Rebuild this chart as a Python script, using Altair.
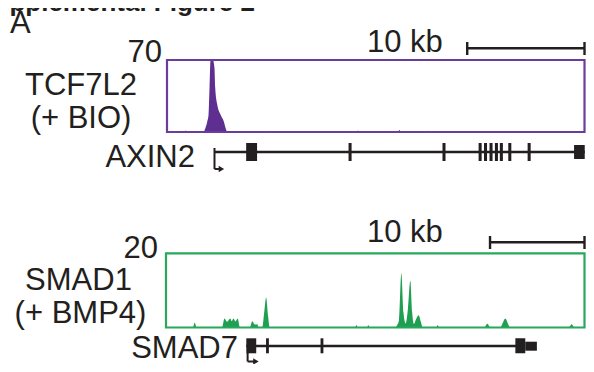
import altair as alt
import pandas as pd

# ---------------- data ----------------
title_text = "Supplemental Figure 2"
panel_letter = "A"
scale_label = "10 kb"
scale_kb = 10

# upper panel: TCF7L2 (+ BIO) ChIP signal at AXIN2
up_track = ["TCF7L2", "(+ BIO)"]
up_gene = "AXIN2"
up_ymax = 70
up_span_kb = 35.6
up_pos = [0, 1.48, 1.60, 1.72, 3.12, 3.21, 3.43, 3.54, 3.63, 3.71, 3.91, 4.05, 4.11, 4.28,
          4.56, 4.83, 5.04, 5.15, 8.74, 8.86, 8.98, 16.16, 16.28, 16.40, 19.70, 19.82, 19.94,
          22.07, 22.19, 22.31, 35.6]
up_val = [0, 0, 1.5, 0, 0, 2, 10, 16.5, 44, 69, 70, 62, 43, 27,
          17, 10.7, 2.3, 0, 0, 1.2, 0, 0, 1.5, 0, 0, 2, 0,
          0, 1.2, 0, 0]
up_gene_start = 4.05
up_gene_end = 35.62
up_tss_arrow_end = 4.64
up_exon_start = [6.75, 15.48, 23.49, 26.57, 27.03, 27.50, 27.96, 28.38, 29.10, 30.75]
up_exon_end = [7.68, 15.74, 23.75, 26.83, 27.29, 27.76, 28.22, 28.64, 29.36, 31.01]
up_last_exon = [34.71, 35.62]

# lower panel: SMAD1 (+ BMP4) ChIP signal at SMAD7
lo_track = ["SMAD1", "(+ BMP4)"]
lo_gene = "SMAD7"
lo_ymax = 20
lo_span_kb = 44.3
lo_pos = [0, 2.83, 3.04, 3.25, 5.93, 6.19, 6.46, 6.79, 6.96, 7.14, 7.35, 7.59, 7.82,
          8.87, 9.13, 9.40, 9.66, 9.82, 10.18, 10.39, 10.60, 10.81, 10.97,
          20.00, 20.16, 20.31, 21.26, 21.42, 21.57,
          24.25, 24.46, 24.67, 24.91, 25.14, 25.37, 25.61, 25.86, 26.06, 26.24, 26.51, 26.74, 26.98, 27.19,
          28.60, 28.76, 28.92, 33.70, 34.01, 34.33, 35.38, 35.59, 35.93, 36.22, 36.43,
          42.62, 42.94, 43.25, 44.3]
lo_val = [0, 0, 1.3, 0, 0, 2.4, 1.5, 2.4, 1.7, 2.4, 1.6, 2.4, 0,
          0, 1.7, 0.8, 0.9, 0, 0, 4, 8.1, 3, 0,
          0, 0.7, 0, 0, 0.7, 0,
          0, 0.6, 2, 14.6, 4, 1.1, 5, 12.6, 4, 1.0, 2.5, 3.3, 1.5, 0,
          0, 0.7, 0, 0, 1.0, 0, 0, 0.9, 2.4, 0.9, 0,
          0, 0.9, 0, 0]
lo_gene_start = 8.50
lo_gene_end = 38.0
lo_tss = 8.64
lo_tss_arrow_end = 9.52
lo_exon_start = [8.50, 10.59, 16.36, 36.98]
lo_exon_end = [9.55, 10.89, 16.66, 38.03]
lo_utr = [38.03, 39.26]

# ---------------- style ----------------
FONT = "Liberation Sans"
INK = "#231f20"
PURPLE_FILL = "#5e2e91"
PURPLE_LINE = "#6a3d9a"
GREEN_FILL = "#1f9f52"
GREEN_LINE = "#27a85c"
FS = 31


def label(text, x, y, align="left", size=FS, weight="normal"):
    return alt.Chart(pd.DataFrame({"t": [text]})).mark_text(
        font=FONT, fontSize=size, fontWeight=weight, color=INK,
        align=align, baseline="alphabetic"
    ).encode(text="t:N", x=alt.value(x), y=alt.value(y))


def panel(pos, val, span, ymax, xr, yr, fill, line, track, gene,
          gene_start, gene_end, tss, arrow_end, ex_s, ex_e, extra,
          gene_y, ex_top, ex_bot, tss_top, arrow_y, bar_y, tick_top, tick_bot,
          ymax_xy, track_xy, gene_xy, bar_label_xy):
    sx = alt.Scale(domain=[0, span], range=xr, nice=False, zero=False)
    sy = alt.Scale(domain=[0, ymax], range=yr, nice=False)
    X = lambda f: alt.X(f, scale=sx, axis=None)

    sig = pd.DataFrame({"pos": pos, "val": val})
    area = alt.Chart(sig).mark_area(color=fill, interpolate="monotone").encode(
        x=X("pos:Q"), y=alt.Y("val:Q", scale=sy, axis=None))

    box = alt.Chart(pd.DataFrame({"x0": [0], "x1": [span], "y0": [0], "y1": [ymax]})).mark_rect(
        fillOpacity=0, stroke=line, strokeWidth=2.2).encode(
        x=X("x0:Q"), x2="x1:Q", y=alt.Y("y0:Q", scale=sy, axis=None), y2="y1:Q")

    gl = alt.Chart(pd.DataFrame({"s": [gene_start], "e": [gene_end]})).mark_rule(
        color=INK, strokeWidth=2.6).encode(x=X("s:Q"), x2="e:Q", y=alt.value(gene_y))

    exons = alt.Chart(pd.DataFrame({"s": ex_s, "e": ex_e})).mark_rect(color=INK).encode(
        x=X("s:Q"), x2="e:Q", y=alt.value(ex_top), y2=alt.value(ex_bot))

    ex2 = alt.Chart(pd.DataFrame({"s": [extra[0]], "e": [extra[1]]})).mark_rect(color=INK).encode(
        x=X("s:Q"), x2="e:Q", y=alt.value(extra[2]), y2=alt.value(extra[3]))

    tss_df = pd.DataFrame({"s": [tss], "e": [arrow_end]})
    stem = alt.Chart(tss_df).mark_rule(color=INK, strokeWidth=2).encode(
        x=X("s:Q"), y=alt.value(tss_top), y2=alt.value(arrow_y))
    horiz = alt.Chart(tss_df).mark_rule(color=INK, strokeWidth=2).encode(
        x=X("s:Q"), x2="e:Q", y=alt.value(arrow_y))
    head = alt.Chart(tss_df).mark_point(shape="triangle-right", filled=True, color=INK,
                                        size=40, opacity=1).encode(
        x=X("e:Q"), y=alt.value(arrow_y))

    bar = pd.DataFrame({"s": [span - scale_kb], "e": [span]})
    bar_line = alt.Chart(bar).mark_rule(color=INK, strokeWidth=2.4).encode(
        x=X("s:Q"), x2="e:Q", y=alt.value(bar_y))
    ends = pd.DataFrame({"p": [span - scale_kb, span]})
    bar_ticks = alt.Chart(ends).mark_rule(color=INK, strokeWidth=2.4).encode(
        x=X("p:Q"), y=alt.value(tick_top), y2=alt.value(tick_bot))

    texts = [
        label(str(ymax), ymax_xy[0], ymax_xy[1], align="right"),
        label(track[0], track_xy[0], track_xy[1], align="center"),
        label(track[1], track_xy[2], track_xy[3], align="center"),
        label(gene, gene_xy[0], gene_xy[1], align="right"),
        label(scale_label, bar_label_xy[0], bar_label_xy[1], align="left"),
    ]
    return alt.layer(area, box, gl, exons, ex2, stem, horiz, head, bar_line, bar_ticks, *texts)


upper = panel(up_pos, up_val, up_span_kb, up_ymax, [159, 576.5], [124, 52],
              PURPLE_FILL, PURPLE_LINE, up_track, up_gene,
              up_gene_start, up_gene_end, up_gene_start, up_tss_arrow_end,
              up_exon_start, up_exon_end, [up_last_exon[0], up_last_exon[1], 137, 151],
              gene_y=144, ex_top=135, ex_bot=153, tss_top=140, arrow_y=161,
              bar_y=40.3, tick_top=34, tick_bot=47,
              ymax_xy=(154, 54), track_xy=(73, 87, 73, 120), gene_xy=(187, 159),
              bar_label_xy=(359, 43.7))

lower = panel(lo_pos, lo_val, lo_span_kb, lo_ymax, [158, 576.5], [319.5, 245.3],
              GREEN_FILL, GREEN_LINE, lo_track, lo_gene,
              lo_gene_start, lo_gene_end, lo_tss, lo_tss_arrow_end,
              lo_exon_start, lo_exon_end, [lo_utr[0], lo_utr[1], 333.7, 342.7],
              gene_y=338, ex_top=330.3, ex_bot=345.3, tss_top=345, arrow_y=353.5,
              bar_y=234.3, tick_top=228, tick_bot=241,
              ymax_xy=(150, 250), track_xy=(70.5, 282, 72.5, 315), gene_xy=(230, 350),
              bar_label_xy=(359, 233.7))

header = alt.layer(
    label(title_text, 247, 2.5, align="right", size=26, weight="bold"),
    label(panel_letter, 2, 25, align="left"),
)

chart = alt.layer(header, upper, lower).resolve_scale(
    x="independent", y="independent"
).properties(
    width=578, height=356, padding=0,
    autosize=alt.AutoSizeParams(type="none"),
).configure_view(stroke=None)

chart.save("out.html", embed_options={"renderer": "svg", "actions": False})
